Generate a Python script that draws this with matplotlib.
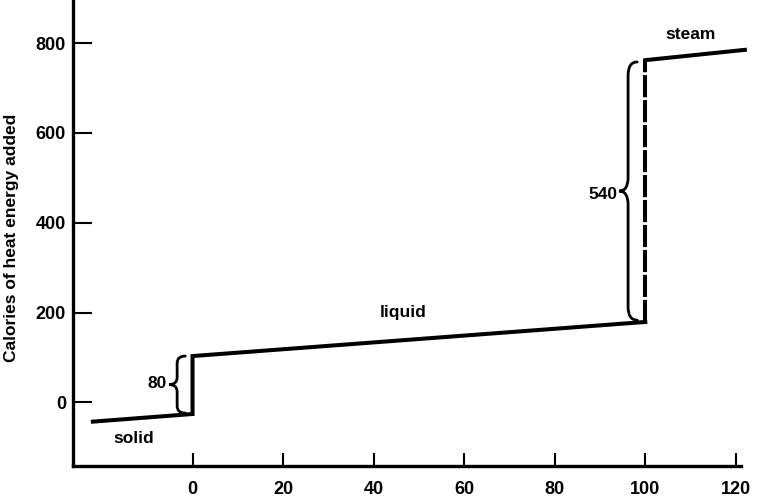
import numpy as np
import matplotlib as mpl
mpl.use("Agg")
import matplotlib.pyplot as plt
from matplotlib.path import Path
from matplotlib.patches import PathPatch

mpl.rcParams['font.family'] = ['Liberation Sans', 'DejaVu Sans']
mpl.rcParams['font.weight'] = 'bold'

# heating curve of water
heat_temp = [-22, 0, 0, 100]          # deg C
heat_cal = [-43, -26, 103, 179]       # calories added
boil_temp = [100, 100]
boil_cal = [179, 762]
steam_temp = [100, 122]
steam_cal = [762, 785]

xticks = [0, 20, 40, 60, 80, 100, 120]
yticks = [0, 200, 400, 600, 800]

melt_heat = 80
boil_heat = 540


def brace(ax, x, y1, y2, w, r):
    # "{" shaped brace, tip pointing left, spine at x
    ym = 0.5 * (y1 + y2)
    verts = [(x + w, y2), (x, y2), (x, y2 - r),
             (x, ym + r), (x, ym), (x - w, ym),
             (x, ym), (x, ym - r),
             (x, y1 + r), (x, y1), (x + w, y1)]
    codes = [Path.MOVETO, Path.CURVE3, Path.CURVE3,
             Path.LINETO, Path.CURVE3, Path.CURVE3,
             Path.CURVE3, Path.CURVE3,
             Path.LINETO, Path.CURVE3, Path.CURVE3]
    ax.add_patch(PathPatch(Path(verts, codes), fill=False, lw=2.0,
                           color='black', capstyle='round'))


fig = plt.figure(figsize=(7.62, 4.98), dpi=100)
ax = fig.add_axes([0.0958, 0.065, 0.877, 0.935])

ax.plot(heat_temp, heat_cal, color='black', lw=2.9, solid_joinstyle='miter')
ax.plot(boil_temp, boil_cal, color='black', lw=2.9, dashes=(5.5, 0.7))
ax.plot(steam_temp, steam_cal, color='black', lw=2.9, clip_on=False)

brace(ax, -3.4, heat_cal[1] + 2, heat_cal[2], 1.8, 16)
ax.text(-5.6, 43, str(melt_heat), ha='right', va='center', fontsize=12.5)
brace(ax, 96.2, boil_cal[0] + 4, boil_cal[1] - 4, 2.0, 30)
ax.text(93.8, 462, str(boil_heat), ha='right', va='center', fontsize=12.5)

ax.text(-13, -80, 'solid', ha='center', va='center', fontsize=12.5)
ax.text(46.5, 200, 'liquid', ha='center', va='center', fontsize=12.5)
ax.text(110, 820, 'steam', ha='center', va='center', fontsize=12.5)

ax.set_xlim(-26.4, 121.2)
ax.set_ylim(-141, 896)
ax.set_xticks(xticks)
ax.set_yticks(yticks)
ax.spines['top'].set_visible(False)
ax.spines['right'].set_visible(False)
for s in ['left', 'bottom']:
    ax.spines[s].set_linewidth(2.4)
ax.tick_params(axis='x', direction='in', length=9.5, width=1.5, pad=11,
               labelsize=13)
ax.tick_params(axis='y', direction='in', length=14, width=1.5, pad=5,
               labelsize=13)

fig.text(12 / 762, 1 - 238 / 498, 'Calories of heat energy added',
         rotation=90, ha='center', va='center', fontsize=12.5)

fig.savefig('out.png', dpi=100)
